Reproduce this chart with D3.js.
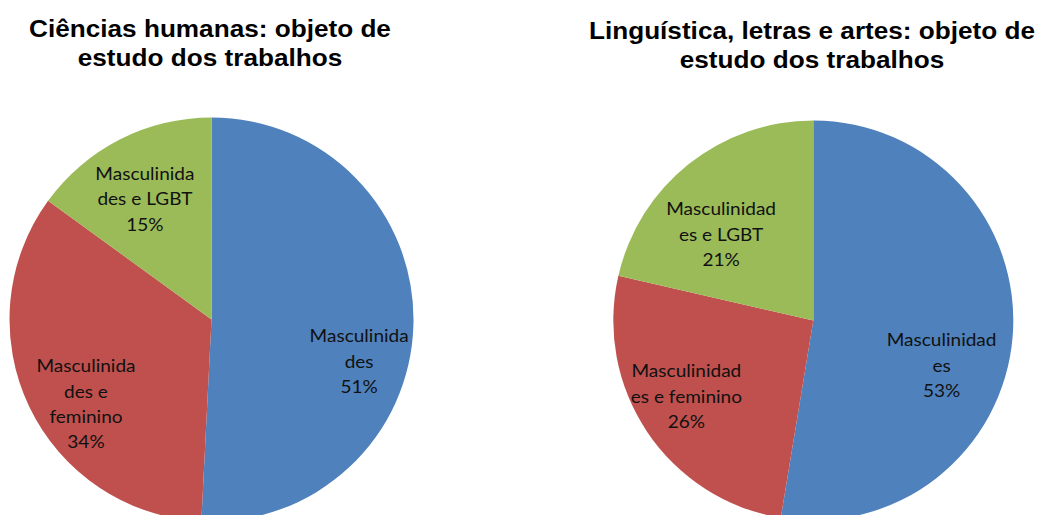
<!DOCTYPE html>
<html><head><meta charset="utf-8">
<script src="https://cdn.jsdelivr.net/npm/d3@7"></script>
<style>html,body{margin:0;padding:0;background:#fff;overflow:hidden}</style>
</head><body>
<svg id="chart" width="1043" height="515"></svg>
<script>
// ---- data ----
const titlesLeft = ["Ciências humanas: objeto de", "estudo dos trabalhos"];
const titlesRight = ["Linguística, letras e artes: objeto de", "estudo dos trabalhos"];
const categoriesLeft = ["Masculinidades", "Masculinidades e feminino", "Masculinidades e LGBT"];
const valuesLeft = [50.8, 34.2, 15.0];
const labelLinesLeft = [["Masculinida", "des"], ["Masculinida", "des e", "feminino"], ["Masculinida", "des e LGBT"]];
const categoriesRight = ["Masculinidades", "Masculinidades e feminino", "Masculinidades e LGBT"];
const valuesRight = [52.6, 26.0, 21.4];
const labelLinesRight = [["Masculinidad", "es"], ["Masculinidad", "es e feminino"], ["Masculinidad", "es e LGBT"]];
const colors = ["#4F81BD", "#C0504D", "#9BBB59"];

// ---- layout ----
const svg = d3.select("#chart");
const panels = [
  {titles: titlesLeft, cats: categoriesLeft, vals: valuesLeft, lines: labelLinesLeft,
   cx: 211.5, cy: 319.5, r: 202, tx: 210, ty: 37,
   rf: [0.76, 0.75, 0.68], angAdj: [14.5, -8.5, -2]},
  {titles: titlesRight, cats: categoriesRight, vals: valuesRight, lines: labelLinesRight,
   cx: 813.3, cy: 320.5, r: 200, tx: 812, ty: 39,
   rf: [0.68, 0.74, 0.63], angAdj: [14.7, 2.9, -8.5]}
];

const pie = d3.pie().sort(null).value(d => d);
const lineH = 25.3;

panels.forEach(p => {
  const g = svg.append("g");
  // title
  const t = g.append("text")
    .attr("transform", `translate(${p.tx},${p.ty}) scale(1.09,1)`)
    .attr("text-anchor", "middle")
    .style("font-family", "'Liberation Sans', Arial, sans-serif")
    .style("font-weight", "bold").style("font-size", "24px").attr("fill", "#000");
  p.titles.forEach((s, i) => t.append("tspan").attr("x", 0).attr("dy", i === 0 ? 0 : 29.5).text(s));

  const arcs = pie(p.vals);
  const arc = d3.arc().innerRadius(0).outerRadius(p.r);
  const pg = g.append("g").attr("transform", `translate(${p.cx},${p.cy})`);
  pg.selectAll("path").data(arcs).join("path")
    .attr("d", arc).attr("fill", (d, i) => colors[i]);

  const total = d3.sum(p.vals);
  arcs.forEach((d, i) => {
    const mid = (d.startAngle + d.endAngle) / 2 + p.angAdj[i] * Math.PI / 180;
    const rr = p.r * p.rf[i];
    const x = Math.sin(mid) * rr;
    const y = -Math.cos(mid) * rr;
    const lines = p.lines[i].concat([Math.round(d.data / total * 100) + "%"]);
    const n = lines.length;
    const txt = pg.append("text").attr("text-anchor", "middle")
      .attr("transform", `translate(${x},0) scale(1.12,1)`)
      .style("font-family", "Lato, 'Open Sans', sans-serif").style("font-size", "17px")
      .attr("fill", "#111");
    lines.forEach((s, k) => {
      txt.append("tspan").attr("x", 0)
        .attr("y", y + (k - (n - 1) / 2) * lineH + 6).text(s);
    });
  });
});
</script>
</body></html>
